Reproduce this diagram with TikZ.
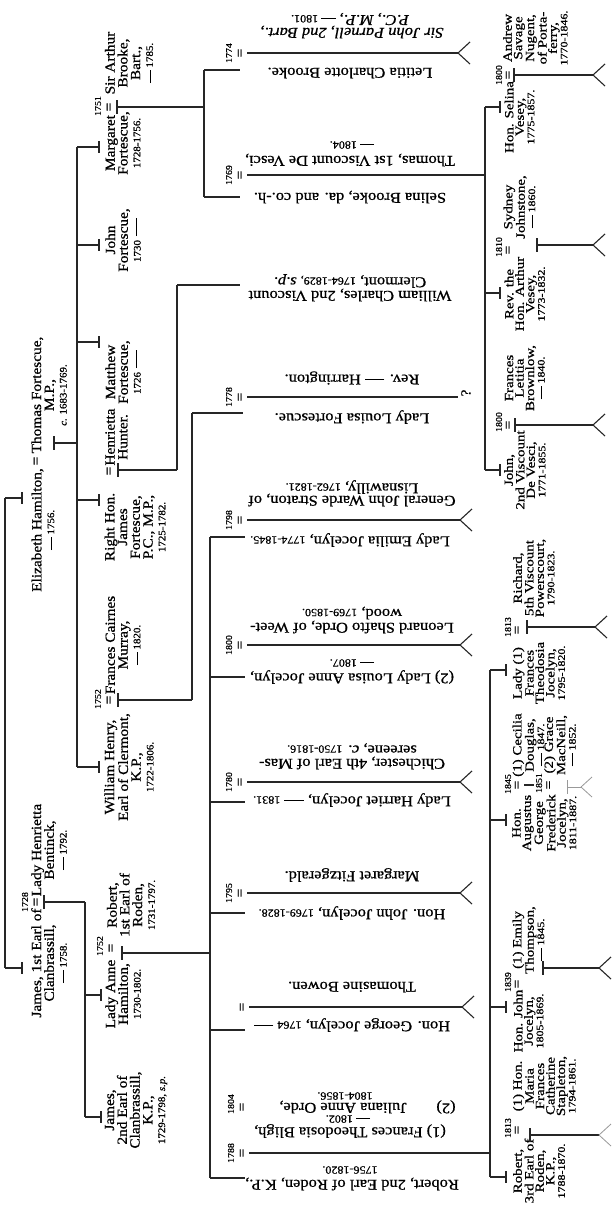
\documentclass[tikz,border=0pt]{standalone}
\usepackage{fontspec}
\newfontfamily\gf[FakeStretch=1.1,FakeBold=0.8]{Liberation Serif}
\newfontfamily\gfB[FakeStretch=1.2,FakeBold=0.8]{Liberation Serif}
\newcommand\nmA{\gf\fontsize{14}{12.8}\selectfont}
\newcommand\nmB{\gfB\fontsize{12.5}{10.5}\selectfont}
\newcommand\nmC{\gf\fontsize{15}{15}\selectfont}
\newcommand\dt{\fontsize{10}{11}\selectfont}
\newcommand\dtC{\fontsize{11}{12}\selectfont}
\newcommand\yrf{\gf\fontsize{9}{9}\selectfont}
\newcommand\dsh{\rule[.27em]{1.3em}{.06em}}
\newcommand\tk[3]{\draw[ln] (#1,#3) -- (#2,#3) (#2,#3) ++(0,-6) -- ++(0,12);}
\newcommand\gt[3]{\draw[ln] (#1,#3) -- (#2,#3);}
\newcommand\ml[3]{\draw[ln] (#1,#3) ++(0,-7) -- ++(0,14) (#1,#3) -- (#2,#3);}
\newcommand\fk[2]{\draw[ln] (#1,#2) -- ++(12,-11) (#1,#2) -- ++(12,11);}
\tikzset{
 ln/.style={line width=1.1bp, black!85},
 vA/.style={rotate=90, align=center, inner sep=0pt, font=\nmA},
 vB/.style={rotate=90, align=center, inner sep=0pt, font=\nmB},
 uC/.style={rotate=180, inner sep=0pt, font=\nmC},
 eqs/.style={rotate=90, inner sep=0pt, font=\nmA},
 yrs/.style={rotate=90, inner sep=0pt, font=\yrf},
}
\begin{document}
\begin{tikzpicture}[x=1bp,y=-1bp]
\fill[white] (0,0) rectangle (614,1210);
\useasboundingbox (0,0) rectangle (614,1210);

% ---------- generation 1 ----------
\draw[ln] (5,498) -- (5,968);
\tk{5}{22}{498}\tk{5}{22}{968}
\node[vA] (eliz) at (43,530) {Elizabeth Hamilton,\\{\dt \dsh{} 1756.}};
\node[eqs] (eq1) at (37,461) {=};
\node[vA] (thomas) at (49,395) {Thomas Fortescue,\\M.P.,\\{\dt \textit{c.} 1683-1769.}};
\ml{54}{77}{443}
\node[vA] (james1) at (49,963) {James, 1st Earl of\\Clanbrassill,\\{\dt \dsh{} 1758.}};
\node[yrs] (y1728) at (25,902) {1728};
\node[eqs] (eq2) at (37,902) {=};
\node[vA] (henr) at (49,850) {Lady Henrietta\\Bentinck,\\{\dt \dsh{} 1792.}};
\ml{44}{85}{902}

% ---------- generation 2 ----------
\draw[ln] (77,147) -- (77,767);
\tk{77}{99}{147}\tk{77}{99}{245}\tk{77}{99}{342}\tk{77}{99}{500}\tk{77}{99}{767}
\node[vA] (marg) at (123,143) {Margaret\\Fortescue,\\{\dt 1728-1756.}};
\node[yrs] (y1751) at (98,106) {1751};
\node[eqs] (eq3) at (110,107) {=};
\node[vA] (arthur) at (129,63) {Sir Arthur\\Brooke,\\Bart.,\\{\dt \dsh{} 1785.}};
\ml{117}{204}{107}
\node[vA] (johnF) at (123,240) {John\\Fortescue,\\{\dt 1730} \dsh};
\node[vA] (matt) at (123,372) {Matthew\\Fortescue,\\{\dt 1726} \dsh};
\node[vA] (hunter) at (116.5,437) {Henrietta\\Hunter.};
\node[eqs] (eq4) at (110,471) {=};
\node[vA] (jamesF) at (135,527) {Right Hon.\\James\\Fortescue,\\P.C., M.P.,\\{\dt 1725-1782.}};
\ml{118}{177}{470}
\node[vA] (murray) at (123,645) {Frances Cairnes\\Murray,\\{\dt \dsh{} 1820.}};
\node[yrs] (y1752a) at (98,699) {1752};
\node[eqs] (eq5) at (110,700) {=};
\node[vA] (wh) at (129,767) {William Henry,\\Earl of Clermont,\\K.P.,\\{\dt 1722-1806.}};
\ml{118}{192}{700}
\draw[ln] (85,902) -- (85,1117);
\tk{85}{101}{995}\tk{85}{101}{1117}
\node[vA] (rob1) at (131,905) {Robert,\\1st Earl of\\Roden,\\{\dt 1731-1797.}};
\node[yrs] (y1752b) at (100,946) {1752};
\node[eqs] (eq6) at (112,948) {=};
\node[vA] (anne) at (123,994) {Lady Anne\\Hamilton,\\{\dt 1730-1802.}};
\ml{122}{210}{953}
\node[vA] (james2) at (136,1110) {James,\\2nd Earl of\\Clanbrassill,\\K.P.,\\{\dt 1729-1798, \textit{s.p.}}};

% ---------- generation 3 : brackets ----------
\draw[ln] (204,70) -- (204,197);
\gt{204}{240}{70}\gt{204}{240}{197}
\draw[ln] (177,285) -- (177,470);
\gt{177}{240}{285}
\draw[ln] (192,413) -- (192,700);
\gt{192}{243}{413}
\draw[ln] (210,537) -- (210,1178);
\gt{210}{245}{537}\gt{210}{245}{677}\gt{210}{245}{802}
\gt{210}{245}{913}\gt{210}{245}{1030}\gt{210}{245}{1178}

% ---------- generation 3 : entries ----------
\node[uC] (parn1) at (352,32) {\textit{Sir John Parnell, 2nd Bart.,}};
\node[uC] (parn2) at (350,19) {\textit{P.C., M.P.,} {\dtC\dsh{} 1801.}};
\node[yrs] (y1774) at (229,53) {1774};
\node[eqs] (e1774) at (241,53) {=};
\gt{247}{458}{53}\fk{458}{53}
\node[uC] (letitia) at (350,73) {Letitia Charlotte Brooke.};

\node[uC] (tdv1) at (350,160) {Thomas, 1st Viscount De Vesci,};
\node[uC] (tdv2) at (352,145) {\dtC\dsh{} 1804.};
\node[yrs] (y1769) at (229,175) {1769};
\node[eqs] (e1769) at (241,175) {=};
\gt{247}{485}{175}
\node[uC] (selinaB) at (350,197) {Selina Brooke, da. and co.-h.};

\node[uC] (wc1) at (350,295) {William Charles, 2nd Viscount};
\node[uC] (wc2) at (350,281) {Clermont, {\dtC 1764-1829,} \textit{s.p.}};

\node[uC] (harr) at (352,378) {Rev. \dsh{} Harrington.};
\node[yrs] (y1778) at (229,397) {1778};
\node[eqs] (e1778) at (241,397) {=};
\gt{247}{458}{397}
\node[rotate=90, inner sep=0pt, font=\nmA] (qm) at (466,393) {?};
\node[uC] (louisaF) at (352,417) {Lady Louisa Fortescue.};

\node[uC] (str1) at (352,500) {General John Warde Straton, of};
\node[uC] (str2) at (352,487) {Lisnawilly, {\dtC 1762-1821.}};
\node[yrs] (y1798) at (229,520) {1798};
\node[eqs] (e1798) at (241,520) {=};
\gt{247}{460}{520}\fk{460}{520}
\node[uC] (emilia) at (350,540) {Lady Emilia Jocelyn, {\dtC 1774-1845.}};

\node[uC] (orde1) at (352,627) {Leonard Shafto Orde, of Weet-};
\node[uC] (orde2) at (352,613) {wood, {\dtC 1769-1850.}};
\node[yrs] (y1800) at (229,645) {1800};
\node[eqs] (e1800) at (241,645) {=};
\gt{247}{460}{645}\fk{460}{645}
\node[uC] (louA1) at (352,677) {(2) Lady Louisa Anne Jocelyn,};
\node[uC] (louA2) at (352,663) {\dtC\dsh{} 1807.};

\node[uC] (chi1) at (352,763) {Chichester, 4th Earl of Mas-};
\node[uC] (chi2) at (352,748) {sereene, \textit{c.} {\dtC 1750-1816.}};
\node[yrs] (y1780) at (229,782) {1780};
\node[eqs] (e1780) at (241,782) {=};
\gt{247}{460}{782}\fk{460}{782}
\node[uC] (harriet) at (352,800) {Lady Harriet Jocelyn, \dsh{} {\dtC 1831.}};

\node[uC] (fitz) at (352,875) {Margaret Fitzgerald.};
\node[yrs] (y1795) at (229,893) {1795};
\node[eqs] (e1795) at (241,893) {=};
\gt{247}{460}{893}\fk{460}{893}
\node[uC] (johnJ) at (352,913) {Hon. John Jocelyn, {\dtC 1769-1828.}};

\node[uC] (bowen) at (352,987) {Thomasine Bowen.};
\node[eqs] (eG) at (243,1007) {=};
\gt{249}{462}{1007}\fk{462}{1007}
\node[uC] (george) at (352,1025) {Hon. George Jocelyn, {\dtC 1764} \dsh};

\node[uC] (jul2) at (345,1096) {\dtC 1804-1856.};
\node[uC] (jul1) at (343,1107) {Juliana Anne Orde,};
\node[uC] (two) at (446,1107) {(2)};
\node[yrs] (y1804) at (231,1104) {1804};
\node[eqs] (e1804) at (243,1107) {=};
\node[uC] (bli2) at (348,1119) {\dtC\dsh{} 1802.};
\node[uC] (bli1) at (350,1131) {(1) Frances Theodosia Bligh,};
\node[yrs] (y1788) at (231,1153) {1788};
\node[eqs] (e1788) at (243,1153) {=};
\gt{249}{490}{1153}
\node[uC] (rob2b) at (350,1170) {\dtC 1756-1820.};
\node[uC] (rob2) at (352,1184) {Robert, 2nd Earl of Roden, K.P.,};

% ---------- generation 4 : Vesey ----------
\draw[ln] (485,107) -- (485,470);
\tk{485}{500}{107}\tk{485}{500}{293}\tk{485}{500}{470}
\node[vB] (andrew) at (535.3,38) {Andrew\\Savage\\Nugent,\\of Porta-\\ferry,\\{\dt 1770-1846.}};
\node[yrs] (y1800b) at (499,75) {1800};
\node[eqs] (e1800b) at (509,75) {=};
\node[vB] (selina) at (519.5,117) {Hon. Selina\\Vesey,\\{\dt 1775-1857.}};
\ml{514}{593}{75}\fk{593}{75}
\node[vB] (sydney) at (519.5,207) {Sydney\\Johnstone,\\{\dt \dsh{} 1860.}};
\node[yrs] (y1810) at (499,247) {1810};
\node[eqs] (e1810) at (509,250) {=};
\node[vB] (arthurV) at (524.8,294) {Rev. the\\Hon. Arthur\\Vesey,\\{\dt 1773-1832.}};
\ml{537}{593}{245}\fk{593}{245}
\node[vB] (brown) at (524.8,378) {Frances\\Letitia\\Brownlow,\\{\dt \dsh{} 1840.}};
\node[yrs] (y1800c) at (499,422) {1800};
\node[eqs] (e1800c) at (509,425) {=};
\node[vB] (johnV) at (524.8,470) {John,\\2nd Viscount\\De Vesci,\\{\dt 1771-1855.}};
\ml{515}{593}{425}\fk{593}{425}

% ---------- generation 4 : Roden ----------
\draw[ln] (490,670) -- (490,1177);
\tk{490}{506}{670}\tk{490}{506}{820}\tk{490}{506}{1007}\tk{490}{506}{1177}
\node[vB] (richard) at (533.8,578) {Richard,\\5th Viscount\\Powerscourt,\\{\dt 1790-1823.}};
\node[yrs] (y1813a) at (508,627) {1813};
\node[eqs] (e1813a) at (518,630) {=};
\node[vB] (frances) at (539,673) {Lady (1)\\Frances\\Theodosia\\Jocelyn,\\{\dt 1795-1820.}};
\ml{527}{595}{627}\fk{595}{627}

\node[vB] (cecilia) at (528.5,745) {(1) Cecilia\\Douglas,\\{\dt \dsh{} 1847.}};
\node[yrs] (y1845) at (508,784) {1845};
\node[eqs] (e1845) at (518,785) {=};
\draw[ln] (524,785) -- (534,785);
\node[yrs] (y1851) at (539,783) {1851};
\node[eqs] (e1851) at (549.5,785) {=};
\node[vB] (grace) at (560,745) {(2) Grace\\MacNeill,\\{\dt \dsh{} 1852.}};
\node[vB] (augustus) at (544.3,823) {Hon.\\Augustus\\George\\Frederick\\Jocelyn,\\{\dt 1811-1887.}};
\begin{scope}[black!40]
\draw[line width=0.8bp] (567,787) ++(0,-7) -- ++(0,14) (567,787) -- (581,787);
\draw[line width=0.8bp] (581,787) -- ++(11,-10) (581,787) -- ++(11,10);
\end{scope}

\node[vB] (emily) at (528.5,940) {(1) Emily\\Thompson,\\{\dt \dsh{} 1845.}};
\node[yrs] (y1839) at (508,982) {1839};
\node[eqs] (e1839) at (518,984) {=};
\node[vB] (johnH) at (528.5,1021) {Hon. John\\Jocelyn,\\{\dt 1805-1869.}};
\ml{543}{599}{968}\fk{599}{968}

\node[vB] (maria) at (544.3,1086) {(1) Hon.\\Maria\\Frances\\Catherine\\Stapleton,\\{\dt 1794-1861.}};
\node[yrs] (y1813b) at (508,1128) {1813};
\node[eqs] (e1813b) at (518,1130) {=};
\node[vB] (rob3) at (539,1171) {Robert,\\3rd Earl of\\Roden,\\K.P.,\\{\dt 1788-1870.}};
\ml{530}{599}{1135}
\begin{scope}[black!40]
\draw[line width=0.8bp] (599,1135) -- ++(12,-11) (599,1135) -- ++(12,11);
\end{scope}
\end{tikzpicture}
\end{document}
